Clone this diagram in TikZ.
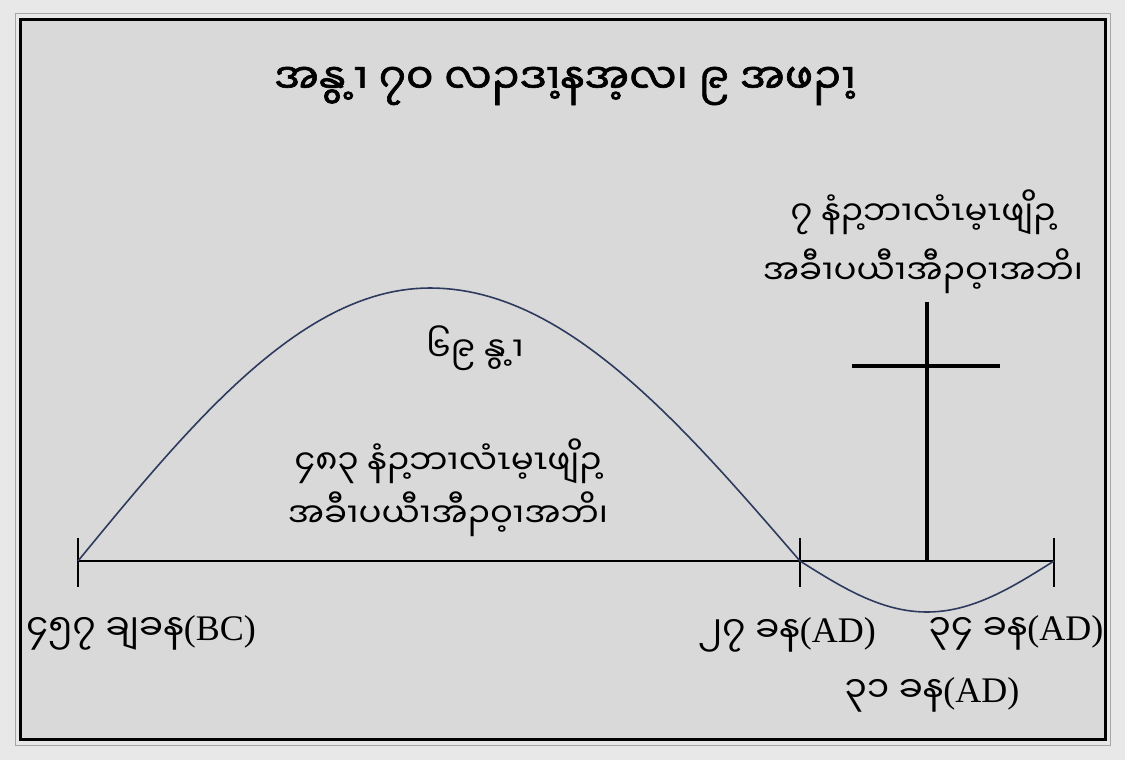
\documentclass[tikz,border=0pt]{standalone}
\usepackage{fontspec}
\setmainfont{Liberation Serif}
\newfontfamily\mya[Script=Myanmar]{Noto Sans Myanmar UI}
\newfontfamily\myab[Script=Myanmar,FakeBold=1.5]{Noto Sans Myanmar UI}
\definecolor{outbg}{HTML}{E8E8E8}
\definecolor{inbg}{HTML}{D9D9D9}
\definecolor{curvecol}{HTML}{2E3B5E}
\tikzset{
  axisline/.style={line width=2pt, black},
  crossline/.style={line width=4pt, black},
  wave/.style={line width=1.6pt, curvecol},
  mtext/.style={font=\mya\fontsize{34}{44}\selectfont, inner sep=0pt, align=center},
  ttext/.style={font=\myab\fontsize{42}{50}\selectfont, inner sep=0pt},
  lab/.style={font=\fontsize{36}{40}\selectfont, inner sep=0pt}
}
\begin{document}
\begin{tikzpicture}[x=1pt,y=-1pt]
\useasboundingbox (0,0) rectangle (1125,760);
\fill[outbg] (0,0) rectangle (1125,760);
\draw[gray!70, line width=1pt] (15,14) rectangle (1110,745);
\draw[black, line width=3.5pt, fill=inbg] (20.5,19.5) rectangle (1105.5,739.5);
% axis
\coordinate (A) at (78,561);
\coordinate (B) at (800,561);
\coordinate (C) at (1054,561);
\coordinate (At) at (78,538); \coordinate (Ab) at (78,587);
\coordinate (Bt) at (800,538); \coordinate (Bb) at (800,587);
\coordinate (Ct) at (1054,538); \coordinate (Cb) at (1054,587);
\draw[axisline] (A) -- (C);
\draw[axisline] (At) -- (Ab);
\draw[axisline] (Bt) -- (Bb);
\draw[axisline] (Ct) -- (Cb);
% cross
\coordinate (X1) at (927,302); \coordinate (X2) at (927,562);
\coordinate (X3) at (852,366); \coordinate (X4) at (1000,366);
\draw[crossline] (X1) -- (X2);
\draw[crossline] (X3) -- (X4);
% wave
\draw[wave] plot[domain=0:90,samples=50] ({78+3.91111*\x},{561-273*sin(\x)})
  -- plot[domain=90:180,samples=50] ({430+4.11111*(\x-90)},{561-273*sin(\x)})
  -- plot[domain=0:180,samples=60] ({800+1.41111*\x},{561+51*sin(\x)});
% texts
\node[ttext] (title) at (565,86) {အနွ့ၢ ၇၀ လၣဒၢ့နအ့လ၊ ၉ အဖၣ\kern-0.24em ^^^^00a0ၢ့};
\node[mtext, font=\mya\fontsize{34}{59}\selectfont] (sev) at (923,242)
  {၇ နံၣ့ဘၢလံၤမ့ၤဖျိၣ့\\အခီၢပယီၢအီၣဝ့ၢအဘိ၊};
\node[mtext] (w69) at (475,348) {၆၉ နွ့ၢ};
\node[mtext, font=\mya\fontsize{34}{53}\selectfont] (yrs) at (448,488)
  {၄၈၃ နံၣ့ဘၢလံၤမ့ၤဖျိၣ့\\အခီၢပယီၢအီၣဝ့ၢအဘိ၊};
\node[lab] (l457) at (141,633) {{\mya ၄၅၇ ချခန}(BC)};
\node[lab] (l27) at (787,635) {{\mya ၂၇ ခန}(AD)};
\node[lab] (l34) at (1016,633) {{\mya ၃၄ ခန}(AD)};
\node[lab] (l31) at (932,695) {{\mya ၃၁ ခန}(AD)};
\end{tikzpicture}
\end{document}
